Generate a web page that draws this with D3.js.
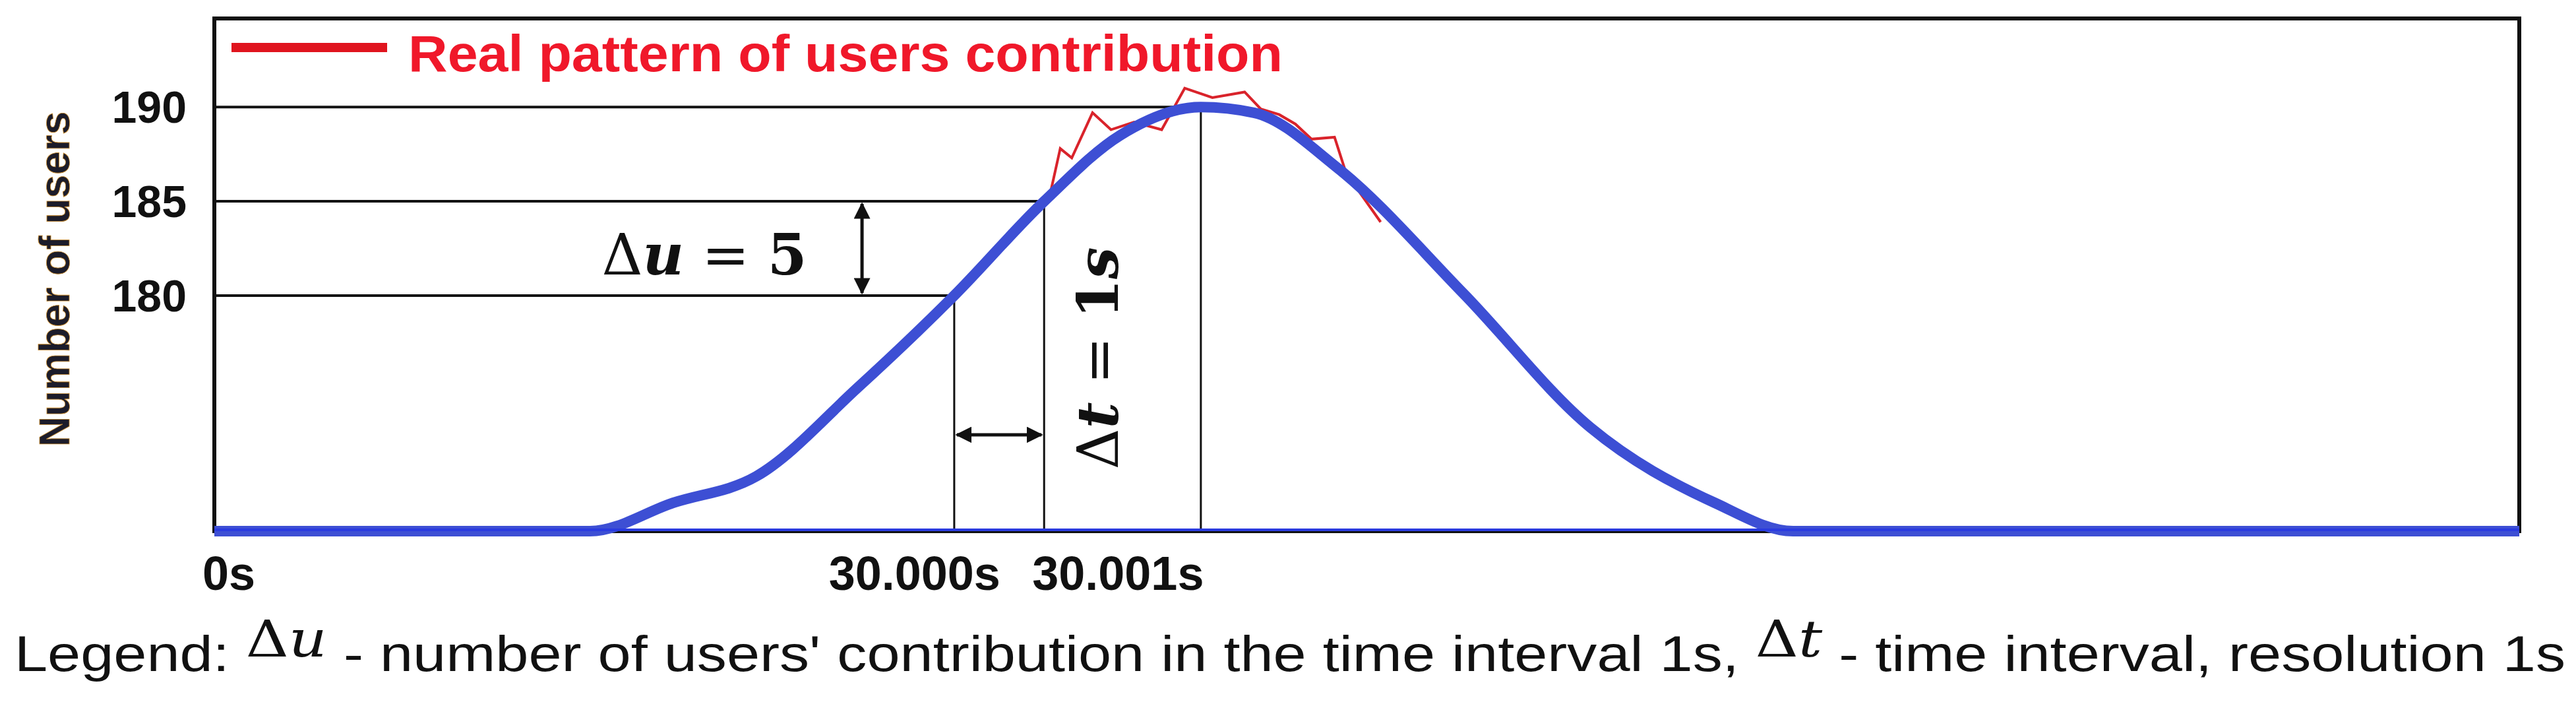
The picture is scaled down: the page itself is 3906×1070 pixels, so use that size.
<!DOCTYPE html>
<html><head><meta charset="utf-8">
<script src="https://cdn.jsdelivr.net/npm/d3@7"></script>
<style>body{margin:0;background:#fff}svg{display:block}</style>
</head><body>
<svg id="chart" width="3906" height="1070"></svg>
<script>
// ====== DATA ======
const fitX = [0, 16.3, 19.9, 23.5, 27.9, 32.1, 36.0, 39.3, 42.8, 45.1, 48.7, 54.2, 59.7, 65.1, 68.5, 100];
const fitY = [167.5, 167.5, 169.0, 170.4, 175.1, 180, 185, 188.5, 190, 189.7, 186.8, 180.1, 173, 169, 167.5, 167.5];
const realX = [36.3, 36.7, 37.2, 38.1, 38.9, 39.9, 41.1, 42.1, 43.3, 44.7, 45.4, 46.2, 46.9, 47.6, 48.6, 49.1, 50.6];
const realY = [185.6, 187.8, 187.3, 189.7, 188.8, 189.2, 188.8, 191.0, 190.5, 190.8, 189.9, 189.6, 189.1, 188.3, 188.4, 186.5, 183.9];
const yTicks = [180, 185, 190];
const refX = [32.1, 36.0, 42.8];   // time marks for 180, 185, 190
const xLabels = [{x: 0, t: '0s', a: 'start'}, {x: 32.1, t: '30.000s', a: 'end'}, {x: 36.0, t: '30.001s', a: 'start'}];

const svg = d3.select('#chart');
const mLeft = 325, mRight = 3820, mTop = 28, mBottom = 805;
const x = d3.scaleLinear().domain([0, 100]).range([mLeft, mRight]);
const y = d3.scaleLinear().domain([167.5, 194.7]).range([mBottom, mTop]);

// frame
svg.append('rect').attr('x', mLeft).attr('y', mTop).attr('width', mRight - mLeft).attr('height', mBottom - mTop)
    .attr('fill', 'none').attr('stroke', '#111').attr('stroke-width', 6);

// reference lines
yTicks.forEach((v, i) => {
    svg.append('line').attr('x1', mLeft).attr('x2', x(refX[i])).attr('y1', y(v)).attr('y2', y(v))
        .attr('stroke', '#111').attr('stroke-width', 4);
    svg.append('line').attr('x1', x(refX[i])).attr('x2', x(refX[i])).attr('y1', y(v)).attr('y2', mBottom)
        .attr('stroke', '#111').attr('stroke-width', 3);
    svg.append('text').attr('x', 283).attr('y', y(v)).attr('dy', '0.35em').attr('text-anchor', 'end')
        .attr('font-family', 'Liberation Sans Narrow, Liberation Sans').attr('font-weight', 'bold')
        .attr('font-size', 68).attr('fill', '#111').text(v);
});

// arrows
const defs = svg.append('defs');
defs.append('marker').attr('id', 'ah').attr('viewBox', '0 0 10 10').attr('refX', 9).attr('refY', 5)
    .attr('markerWidth', 5).attr('markerHeight', 5).attr('orient', 'auto-start-reverse')
    .append('path').attr('d', 'M0,0 L10,5 L0,10 Z').attr('fill', '#111');
svg.append('line').attr('x1', x(28.1)).attr('x2', x(28.1)).attr('y1', y(185) + 4).attr('y2', y(180) - 4)
    .attr('stroke', '#111').attr('stroke-width', 5)
    .attr('marker-start', 'url(#ah)').attr('marker-end', 'url(#ah)');
svg.append('line').attr('x1', x(32.1) + 4).attr('x2', x(36.0) - 4).attr('y1', 659).attr('y2', 659)
    .attr('stroke', '#111').attr('stroke-width', 5)
    .attr('marker-start', 'url(#ah)').attr('marker-end', 'url(#ah)');

// lines
const line = d3.line().x(d => x(d[0])).y(d => y(d[1]));
svg.append('path').datum(realX.map((v, i) => [v, realY[i]]))
    .attr('d', line).attr('fill', 'none').attr('stroke', '#d9232b').attr('stroke-width', 4);
svg.append('path').datum(fitX.map((v, i) => [v, fitY[i]]))
    .attr('d', line.curve(d3.curveMonotoneX)).attr('fill', 'none').attr('stroke', '#3d4fd4')
    .attr('stroke-width', 16).attr('stroke-linejoin', 'round');
// thin part along baseline
svg.append('line').attr('x1', mLeft).attr('x2', mRight).attr('y1', mBottom - 2).attr('y2', mBottom - 2)
    .attr('stroke', '#2a3be0').attr('stroke-width', 4);

// math labels
const math = 'DejaVu Serif';
svg.append('text').attr('x', 1068).attr('y', 386).attr('dy', '0.35em').attr('text-anchor', 'middle')
    .attr('font-family', math).attr('font-size', 86).attr('fill', '#111')
    .html('Δ<tspan font-style="italic" font-weight="bold">u</tspan> = <tspan font-weight="bold">5</tspan>');
svg.append('text').attr('transform', 'translate(1665,543) rotate(-90)').attr('dy', '0.35em')
    .attr('text-anchor', 'middle').attr('font-family', math).attr('font-size', 86).attr('fill', '#111')
    .html('Δ<tspan font-style="italic" font-weight="bold">t</tspan> = <tspan font-weight="bold">1<tspan font-style="italic">s</tspan></tspan>');

// x labels
xLabels.forEach(d => {
    svg.append('text').attr('x', d.a === 'start' ? x(d.x) - 18 : x(d.x) + 70).attr('y', 894)
        .attr('text-anchor', d.a).attr('font-family', 'Liberation Sans Narrow, Liberation Sans')
        .attr('font-weight', 'bold').attr('font-size', 72).attr('fill', '#111').text(d.t);
});

// y title
svg.append('text').attr('transform', 'translate(83,423) rotate(-90)').attr('dy', '0.35em')
    .attr('text-anchor', 'middle').attr('font-family', 'Liberation Sans').attr('font-weight', 'bold')
    .attr('font-size', 64).attr('fill', '#1c1c2a').attr('stroke', '#c98a2a').attr('stroke-width', 0.8)
    .text('Number of users');

// legend
svg.append('line').attr('x1', 351).attr('x2', 587).attr('y1', 72).attr('y2', 72)
    .attr('stroke', '#e0141e').attr('stroke-width', 14);
svg.append('text').attr('x', 619).attr('y', 108).attr('textLength', 1326).attr('lengthAdjust', 'spacingAndGlyphs')
    .attr('font-family', 'Liberation Sans').attr('font-weight', 'bold').attr('font-size', 78)
    .attr('fill', '#f0182a').text('Real pattern of users contribution');

// bottom legend
svg.append('text').attr('x', 22).attr('y', 1017).attr('textLength', 3868).attr('lengthAdjust', 'spacingAndGlyphs')
    .attr('font-family', 'Liberation Sans Narrow, Liberation Sans').attr('font-size', 76).attr('fill', '#111')
    .html('Legend: <tspan font-family="DejaVu Serif" dy="-22">Δ<tspan font-style="italic">u</tspan></tspan><tspan dy="22"> - number of users\' contribution in the time interval 1s, </tspan><tspan font-family="DejaVu Serif" dy="-22">Δ<tspan font-style="italic">t</tspan></tspan><tspan dy="22"> - time interval, resolution 1s</tspan>');
</script>
</body></html>
